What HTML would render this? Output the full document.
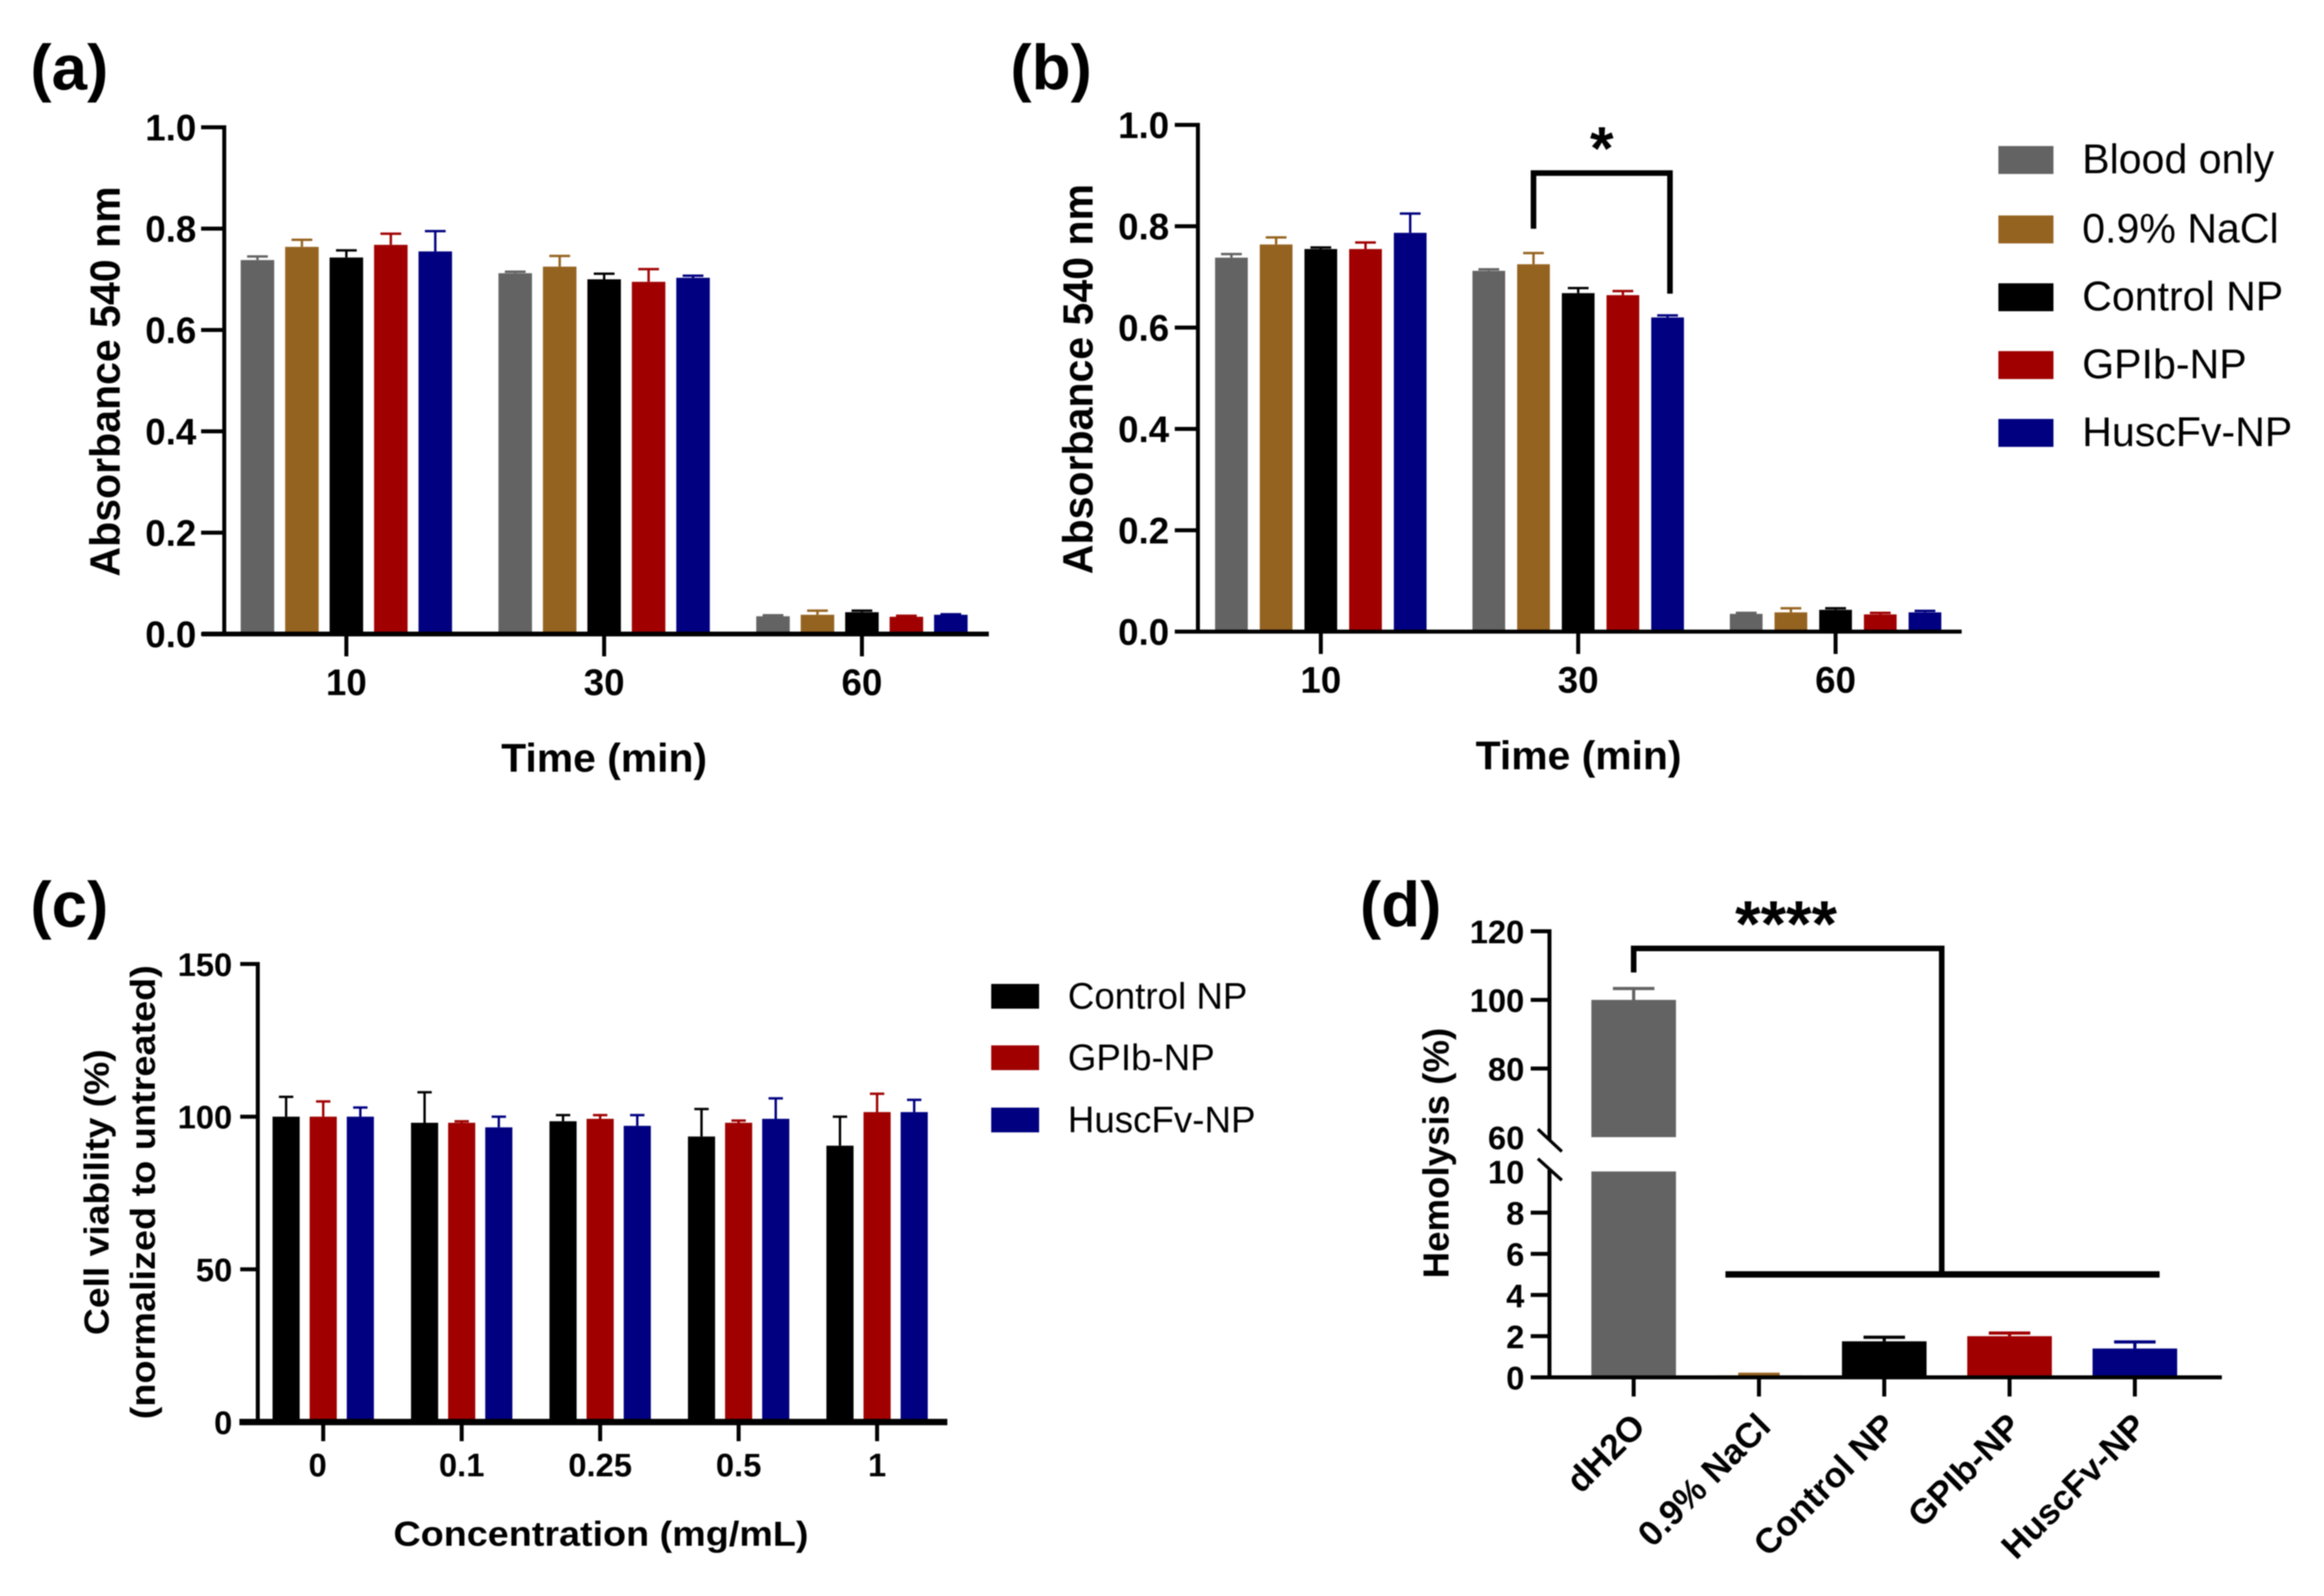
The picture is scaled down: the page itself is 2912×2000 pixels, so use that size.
<!DOCTYPE html>
<html lang="en">
<head>
<meta charset="utf-8">
<title>Blood compatibility and viability bar charts</title>
<style>
html,body{margin:0;padding:0;background:#fff;}
svg{display:block;filter:blur(0.8px);}
text{font-family:"Liberation Sans",Arial,sans-serif;fill:#000;}
.b{font-weight:bold;}
</style>
</head>
<body>
<svg id="fig" xmlns="http://www.w3.org/2000/svg" width="2912" height="2000" viewBox="0 0 2912 2000">
  <rect x="0" y="0" width="2912" height="2000" fill="#fff"/>

  <text class="b" x="38" y="112" font-size="80">(a)</text>
  <text class="b" x="1266" y="112" font-size="80">(b)</text>
  <text class="b" x="38" y="1161" font-size="80">(c)</text>
  <text class="b" x="1704" y="1161" font-size="80">(d)</text>

  <text class="b" transform="translate(150,478) rotate(-90)" text-anchor="middle" font-size="53" textLength="489" lengthAdjust="spacingAndGlyphs">Absorbance 540 nm</text>
  <text class="b" x="757" y="967" text-anchor="middle" font-size="50" textLength="258" lengthAdjust="spacingAndGlyphs">Time (min)</text>

  <text class="b" transform="translate(1369,475) rotate(-90)" text-anchor="middle" font-size="53" textLength="489" lengthAdjust="spacingAndGlyphs">Absorbance 540 nm</text>
  <text class="b" x="1978" y="964" text-anchor="middle" font-size="50" textLength="258" lengthAdjust="spacingAndGlyphs">Time (min)</text>

  <text class="b" transform="translate(136,1494) rotate(-90)" text-anchor="middle" font-size="44" textLength="358" lengthAdjust="spacingAndGlyphs">Cell viability (%)</text>
  <text class="b" transform="translate(194,1494) rotate(-90)" text-anchor="middle" font-size="44" textLength="569" lengthAdjust="spacingAndGlyphs">(normalized to untreated)</text>
  <text class="b" x="753" y="1937" text-anchor="middle" font-size="44" textLength="520" lengthAdjust="spacingAndGlyphs">Concentration (mg/mL)</text>

  <text class="b" transform="translate(1815,1445) rotate(-90)" text-anchor="middle" font-size="45" textLength="314" lengthAdjust="spacingAndGlyphs">Hemolysis (%)</text>

  <g>
    <rect x="2504" y="183" width="69" height="35" fill="#636363"/>
    <text x="2609" y="217" font-size="51.5">Blood only</text>
    <rect x="2504" y="270" width="69" height="35" fill="#956320"/>
    <text x="2609" y="304" font-size="51.5">0.9% NaCl</text>
    <rect x="2504" y="355" width="69" height="35" fill="#000"/>
    <text x="2609" y="389" font-size="51.5">Control NP</text>
    <rect x="2504" y="440" width="69" height="35" fill="#a00000"/>
    <text x="2609" y="474" font-size="51.5">GPIb-NP</text>
    <rect x="2504" y="525" width="69" height="35" fill="#000080"/>
    <text x="2609" y="559" font-size="51.5">HuscFv-NP</text>
  </g>

  <g>
    <rect x="1242" y="1233" width="60" height="31" fill="#000"/>
    <text x="1338" y="1264" font-size="46">Control NP</text>
    <rect x="1242" y="1310" width="60" height="31" fill="#a00000"/>
    <text x="1338" y="1341" font-size="46">GPIb-NP</text>
    <rect x="1242" y="1388" width="60" height="31" fill="#000080"/>
    <text x="1338" y="1419" font-size="46">HuscFv-NP</text>
  </g>

  <g id="marks"></g>
</svg>

<script>
// ---------- data ----------
const fiveColors = ['#636363', '#956320', '#000000', '#a00000', '#000080'];
const threeColors = ['#000000', '#a00000', '#000080'];
const fiveSeries = ['blood-only', 'nacl', 'control-np', 'gpib-np', 'huscfv-np'];
const threeSeries = ['control-np', 'gpib-np', 'huscfv-np'];

const timeCategories = ['10', '30', '60'];
const absorbanceTicks = ['0.0', '0.2', '0.4', '0.6', '0.8', '1.0'];

const aMeans = [
  [0.738, 0.764, 0.743, 0.768, 0.755],
  [0.712, 0.725, 0.700, 0.695, 0.703],
  [0.035, 0.038, 0.043, 0.034, 0.038]
];
const aErrTops = [
  [0.745, 0.778, 0.757, 0.790, 0.795],
  [0.715, 0.746, 0.711, 0.720, 0.707],
  [0.037, 0.046, 0.046, 0.036, 0.039]
];

const bMeans = [
  [0.738, 0.764, 0.755, 0.755, 0.787],
  [0.712, 0.725, 0.668, 0.664, 0.620],
  [0.035, 0.038, 0.043, 0.034, 0.038]
];
const bErrTops = [
  [0.745, 0.778, 0.758, 0.768, 0.825],
  [0.715, 0.747, 0.678, 0.672, 0.624],
  [0.037, 0.046, 0.046, 0.037, 0.041]
];
const bBracketLevels = [0.795, 0.905, 0.667];

const concCategories = ['0', '0.1', '0.25', '0.5', '1'];
const viabilityTicks = ['0', '50', '100', '150'];
const cMeans = [
  [100, 100, 100],
  [98, 98, 96.5],
  [98.5, 99.3, 97],
  [93.5, 98, 99.3],
  [90.5, 101.5, 101.5]
];
const cErrTops = [
  [106.5, 105, 103],
  [108, 98.5, 100],
  [100.5, 100.5, 100.5],
  [102.5, 98.7, 106],
  [100, 107.5, 105.5]
];

const hemoCategories = ['dH2O', '0.9% NaCl', 'Control NP', 'GPIb-NP', 'HuscFv-NP'];
const hemoLowerTicks = ['0', '2', '4', '6', '8', '10'];
const hemoUpperTicks = ['60', '80', '100', '120'];
const hemoMeans = [100, 0.1, 1.75, 2.0, 1.4];
const hemoErrTops = [103.3, 0.15, 1.95, 2.15, 1.72];
const hemoBracketLevels = [108, 115, 5];

// ---------- helpers ----------
const NS = 'http://www.w3.org/2000/svg';
const root = document.getElementById('marks');

function make(tag, attrs) {
  const node = document.createElementNS(NS, tag);
  for (const k in attrs) node.setAttribute(k, attrs[k]);
  root.appendChild(node);
  return node;
}
function linear(d0, d1, r0, r1) {
  return function (v) { return r0 + (v - d0) * (r1 - r0) / (d1 - d0); };
}
function line(x1, y1, x2, y2, width, color, name) {
  const el = make('line', { x1: x1, y1: y1, x2: x2, y2: y2, stroke: color, 'stroke-width': width });
  
  
  return el;
}
function bar(x, w, yTop, yBase, color, name) {
  const el = make('rect', { x: x, y: yTop, width: w, height: Math.max(0, yBase - yTop), fill: color });
  
  
  return el;
}
function errorBar(cx, yFrom, yTo, cap, width, color, name) {
  line(cx, yFrom, cx, yTo, width, color, name + '-stem');
  line(cx - cap / 2, yTo, cx + cap / 2, yTo, width, color, name + '-cap');
}
function label(x, y, str, size, anchor, name) {
  const el = make('text', { x: x, y: y, 'font-size': size, 'text-anchor': anchor, 'font-weight': 'bold' });
  el.textContent = str;
  
  
  return el;
}

function groupedPanel(p) {
  const yOf = linear(p.dMin, p.dMax, p.y0, p.y1);
  const xOf = function (i) { return p.xStart + i * p.xStep; };
  const mid = (p.colors.length - 1) / 2;

  p.means.forEach(function (group, i) {
    group.forEach(function (v, j) {
      const cx = xOf(i) + (j - mid) * p.barPitch;
      bar(cx - p.barW / 2, p.barW, yOf(v), p.y0, p.colors[j], p.id + '-bar-' + p.cats[i] + '-' + p.series[j]);
      errorBar(cx, yOf(v), yOf(p.tops[i][j]), p.cap, 3, p.colors[j], p.id + '-error-' + p.cats[i] + '-' + p.series[j]);
    });
  });

  line(p.axisX, p.y1 - 2.5, p.axisX, p.y0, 5, '#000', p.id + '-y-axis');
  line(p.xLeft, p.y0, p.xRight, p.y0, p.xAxisW, '#000', p.id + '-x-axis');

  p.yTicks.forEach(function (t) {
    const y = yOf(parseFloat(t));
    line(p.axisX - p.tickLen, y, p.axisX, y, 5, '#000', p.id + '-y-tick-' + t);
    label(p.labelRight, y + p.ySize * 0.36, t, p.ySize, 'end', p.id + '-y-tick-label-' + t);
  });
  p.cats.forEach(function (c, i) {
    line(xOf(i), p.y0, xOf(i), p.y0 + p.xTickLen, 5, '#000', p.id + '-x-tick-' + c);
    const shift = i === 0 ? (p.firstLabelShift || 0) : 0;
    label(xOf(i) + shift, p.xLabelY, c, p.xSize, 'middle', p.id + '-x-tick-label-' + c);
  });
  return { xOf: xOf, yOf: yOf };
}

// ---------- panel a ----------
groupedPanel({
  id: 'a', cats: timeCategories, series: fiveSeries, colors: fiveColors, means: aMeans, tops: aErrTops,
  yTicks: absorbanceTicks, dMin: 0, dMax: 1, y0: 794.5, y1: 159.5,
  xStart: 434, xStep: 323, barPitch: 55.7, barW: 42, cap: 26, axisX: 281, xLeft: 253, xRight: 1239, xAxisW: 6,
  tickLen: 29, xTickLen: 28, labelRight: 246, ySize: 46, xSize: 46, xLabelY: 871
});

// ---------- panel b ----------
const bAxes = groupedPanel({
  id: 'b', cats: timeCategories, series: fiveSeries, colors: fiveColors, means: bMeans, tops: bErrTops,
  yTicks: absorbanceTicks, dMin: 0, dMax: 1, y0: 791.5, y1: 156.5,
  xStart: 1655, xStep: 322.5, barPitch: 56, barW: 41, cap: 26, axisX: 1501, xLeft: 1472, xRight: 2458, xAxisW: 5,
  tickLen: 29, xTickLen: 28, labelRight: 1465, ySize: 46, xSize: 46, xLabelY: 868
});
const bBracketLeft = bAxes.xOf(1) - 56;
const bBracketRight = bAxes.xOf(1) + 115;
const bBracket = make('path', {
  d: 'M' + bBracketLeft + ' ' + bAxes.yOf(bBracketLevels[0]) +
     ' V' + bAxes.yOf(bBracketLevels[1]) +
     ' H' + bBracketRight +
     ' V' + bAxes.yOf(bBracketLevels[2]),
  fill: 'none', stroke: '#000', 'stroke-width': 7
});


label((bBracketLeft + bBracketRight) / 2, 212, '*', 76, 'middle', 'b-significance-star');

// ---------- panel c ----------
groupedPanel({
  id: 'c', cats: concCategories, series: threeSeries, colors: threeColors, means: cMeans, tops: cErrTops,
  yTicks: viabilityTicks, dMin: 0, dMax: 150, y0: 1782, y1: 1208,
  xStart: 405, xStep: 173.5, barPitch: 46.5, barW: 34, cap: 18, axisX: 323, xLeft: 300, xRight: 1187, xAxisW: 8,
  tickLen: 22, xTickLen: 24, labelRight: 291, ySize: 41, xSize: 41, xLabelY: 1850, firstLabelShift: -7
});

// ---------- panel d (broken axis) ----------
const yLower = linear(0, 10, 1726, 1468);
const yUpper = linear(60, 120, 1425, 1167);
const xHemo = function (i) { return 2047 + i * 157; };
const hemoBarW = 106;
function yHemo(v) { return v <= 10 ? yLower(v) : yUpper(Math.max(v, 60)); }

hemoCategories.forEach(function (c, i) {
  const v = hemoMeans[i];
  const left = xHemo(i) - hemoBarW / 2;
  const slug = c.replace(/[^A-Za-z0-9]+/g, '-').toLowerCase();
  bar(left, hemoBarW, yLower(Math.min(v, 10)), 1726, fiveColors[i], 'd-bar-' + slug);
  if (v > 10) {
    bar(left, hemoBarW, yUpper(v), yUpper(60), fiveColors[i], 'd-bar-upper-' + slug);
  }
  errorBar(xHemo(i), yHemo(v), yHemo(hemoErrTops[i]), 52, 4, fiveColors[i], 'd-error-' + slug);
  line(xHemo(i), 1726, xHemo(i), 1750, 5, '#000', 'd-x-tick-' + slug);
  const tickText = label(0, 0, c, 44, 'end', 'd-x-tick-label-' + slug);
  tickText.setAttribute('transform', 'translate(' + (xHemo(i) + 17) + ',1790) rotate(-45)');
});

line(1941.5, yUpper(120) - 2.5, 1941.5, yUpper(60) + 3, 5, '#000', 'd-y-axis-upper');
line(1941.5, yLower(10) - 2, 1941.5, 1726, 5, '#000', 'd-y-axis-lower');
line(1924, 1726, 2784, 1726, 5, '#000', 'd-x-axis');
line(1927, 1415, 1957, 1443, 4, '#000', 'd-axis-break-upper');
line(1927, 1452, 1957, 1479, 4, '#000', 'd-axis-break-lower');

hemoLowerTicks.forEach(function (t) {
  const y = yLower(parseFloat(t));
  if (t !== '10') line(1918, y, 1941, y, 5, '#000', 'd-y-tick-' + t);
  label(1910, y + 15, t, 41, 'end', 'd-y-tick-label-' + t);
});
hemoUpperTicks.forEach(function (t) {
  const y = yUpper(parseFloat(t));
  if (t !== '60') line(1918, y, 1941, y, 5, '#000', 'd-y-tick-' + t);
  label(1910, y + 15, t, 41, 'end', 'd-y-tick-label-' + t);
});

const dBracketLeft = xHemo(0);
const dBracketMid = xHemo(2) + 72;
const dBracket = make('path', {
  d: 'M' + dBracketLeft + ' ' + yUpper(hemoBracketLevels[0]) +
     ' V' + yUpper(hemoBracketLevels[1]) +
     ' H' + dBracketMid +
     ' V' + yLower(hemoBracketLevels[2]),
  fill: 'none', stroke: '#000', 'stroke-width': 7
});


line(xHemo(0) + 115, yLower(hemoBracketLevels[2]), xHemo(4) + 31, yLower(hemoBracketLevels[2]), 8, '#000', 'd-significance-group-line');
label(2238, 1186, '****', 82, 'middle', 'd-significance-stars');
</script>
</body>
</html>
